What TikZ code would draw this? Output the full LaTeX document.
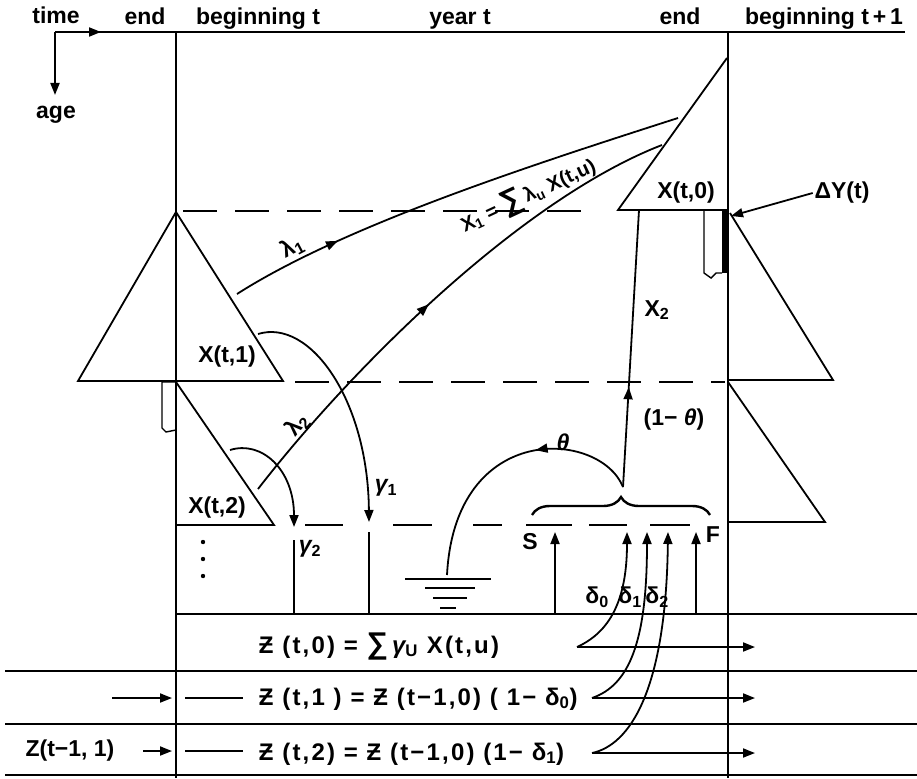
\documentclass[tikz,border=0pt]{standalone}
\usepackage{fontspec}
\setmainfont{Liberation Sans}
\usetikzlibrary{arrows.meta, decorations.markings, decorations.pathreplacing}

\newcommand\bigsum{{\fontsize{30}{30}\selectfont ∑}}

\begin{document}
\begin{tikzpicture}[
    x=1pt, y=-1pt,
    line width=1.8pt,
    txt/.style={font=\fontsize{23}{26}\selectfont\bfseries, inner sep=1pt},
    eqn/.style={txt, anchor=base west, font=\fontsize{24}{27}\selectfont\bfseries\addfontfeature{LetterSpace=9}},
    flow/.style={-{Triangle[length=12pt,width=9pt]}},
    midtip/.style={postaction={decorate}, decoration={markings, mark=at position #1 with {\arrow{Triangle[length=12pt,width=9pt]}}}},
    dashline/.style={dash pattern=on 34pt off 18pt},
    curly/.style={decorate, decoration={brace, amplitude=18pt}, line width=2.4pt}
]
    \useasboundingbox (0,0) rectangle (917,778);

    % Frame
    \coordinate (origin) at (55,32);
    \draw[flow] (origin) -- (101,32);
    \draw (origin) -- (905,32);
    \draw[flow] (origin) -- (55,95);
    \draw (176,32) -- (176,778);
    \draw (728,32) -- (728,778);
    \draw (176,614) -- (917,614);
    \foreach \yy in {671,724,775}
        \draw (5,\yy) -- (917,\yy);

    % Headings
    \node[txt, anchor=base] (time) at (56,24) {time};
    \node[txt, anchor=base] (age) at (56,119) {age};
    \node[txt, anchor=base] (endl) at (145,25) {end};
    \node[txt, anchor=base] (begt) at (258,25) {beginning t};
    \node[txt, anchor=base] (year) at (460,25) {year t};
    \node[txt, anchor=base] (endr) at (680,25) {end};
    \node[txt, anchor=base] (begtt) at (824,25) {beginning t\,+\,1};

    % Age groups
    \draw (176,212) -- (78,381) -- (283,381) -- cycle;
    \draw (176,382) -- (274,525) -- (176,525);
    \draw (727,58) -- (618,210) -- (728,210);
    \draw (730,213) -- (833,380) -- (728,380);
    \draw (728,382) -- (825,522) -- (728,522);
    \node[txt] (xt1) at (227,357) {X(t,1)};
    \node[txt] (xt2) at (217,508) {X(t,2)};
    \node[txt] (xt0) at (686,193) {X(t,0)};
    \foreach \yy in {542,559,576}
        \fill (203,\yy) circle (2.2pt);

    % Age limits
    \draw[dashline] (183,211) -- (585,211);
    \draw[dashline] (295,382) -- (725,382);
    \foreach \a/\b in {305/343,393/432,473/502,526/572,589/627,650/690}
        \draw (\a,525) -- (\b,525);

    % Small brackets
    \draw[line width=1.4pt] (176,382) -- (162,382) -- (162,428) -- (166,432) -- (176,430);
    \draw[line width=1.4pt] (722,210) -- (704,210) -- (704,273) -- (711,278) -- (716,273) -- (722,273);
    \fill (722,210) rectangle (729,273);
    \node[txt] (dy) at (842,193) {ΔY(t)};
    \coordinate (bartop) at (731,216);
    \draw[flow] (dy.west) -- (bartop);

    % Recruitment
    \coordinate (l1s) at (237,294);
    \coordinate (l1e) at (678,118);
    \coordinate (xs) at (258,489);
    \coordinate (xe) at (662,145);
    \draw[midtip=0.24] (l1s) .. controls (345,225) and (535,164) .. (l1e);
    \draw[midtip=0.47] (xs) .. controls (350,370) and (520,200) .. (xe);
    \node[txt, rotate=28] (lam1) at (292,247) {λ\textsubscript{1}};
    \node[txt, rotate=50] (lam2) at (297,425) {λ\textsubscript{2}};
    \node[txt, rotate=25, font=\fontsize{20}{23}\selectfont\bfseries] (xone) at (528,195) {X\textsubscript{1} = \bigsum\,λ\textsubscript{u} X(t,u)};

    % Catch
    \coordinate (g1s) at (258,334);
    \coordinate (g1e) at (369,522);
    \coordinate (g2s) at (230,450);
    \coordinate (g2e) at (294,527);
    \draw[flow] (g1s) .. controls (310,318) and (368,400) .. (g1e);
    \draw[flow] (g2s) .. controls (262,440) and (294,470) .. (g2e);
    \node[txt] (gam1) at (386,488) {{\itshape γ}\textsubscript{1}};
    \node[txt] (gam2) at (310,549) {{\itshape γ}\textsubscript{2}};
    \draw (294,540) -- (294,614);
    \draw (369,532) -- (369,614);

    % Spawning
    \coordinate (split) at (623,487);
    \coordinate (gnd) at (447,575);
    \coordinate (x2e) at (639,210);
    \draw[midtip=0.38] (split) .. controls (600,430) and (455,420) .. (gnd);
    \draw[midtip=0.36] (split) -- (x2e);
    \node[txt] (th) at (563,442) {{\itshape θ}};
    \node[txt] (oneth) at (674,420) {(1− {\itshape θ})};
    \node[txt] (xtwo) at (657,310) {X\textsubscript{2}};
    \draw (405,579) -- (491,579);
    \draw (425,588) -- (475,588);
    \draw (433,598) -- (467,598);
    \draw (440,608) -- (456,608);
    \draw[curly] (532,515) -- (710,515);
    \node[txt] (S) at (530,542) {S};
    \node[txt] (F) at (713,535) {F};

    % Stock of catch
    \coordinate (d0s) at (577,647);
    \coordinate (d1s) at (592,698);
    \coordinate (d2s) at (592,753);
    \draw[flow] (555,614) -- (555,532);
    \draw[flow] (696,614) -- (696,532);
    \draw[flow] (d0s) .. controls (610,632) and (627,600) .. (627,532);
    \draw[flow] (d1s) .. controls (630,685) and (647,640) .. (647,532);
    \draw[flow] (d2s) .. controls (630,745) and (666,690) .. (668,532);
    \draw[flow] (d0s) -- (755,647);
    \draw[flow] (d1s) -- (755,698);
    \draw[flow] (d2s) -- (755,753);
    \node[txt] (del0) at (597,597) {δ\textsubscript{0}};
    \node[txt] (del1) at (630,597) {δ\textsubscript{1}};
    \node[txt] (del2) at (657,597) {δ\textsubscript{2}};

    % Equations
    \node[eqn] (zrow0) at (257,653) {Ƶ (t,0) = \bigsum\,{\itshape γ}\textsubscript{U} X(t,u)};
    \node[eqn] (zrow1) at (257,705) {Ƶ (t,1 ) = Ƶ (t−1,0) ( 1− δ\textsubscript{0})};
    \node[eqn] (zrow2) at (257,760) {Ƶ (t,2) = Ƶ (t−1,0) (1− δ\textsubscript{1})};
    \draw[flow] (112,698) -- (172,698);
    \draw (185,698) -- (243,698);
    \node[txt] (zprev) at (70,751) {Z(t−1, 1)};
    \draw[flow] (143,751) -- (172,751);
    \draw (185,751) -- (243,751);

\end{tikzpicture}
\end{document}
